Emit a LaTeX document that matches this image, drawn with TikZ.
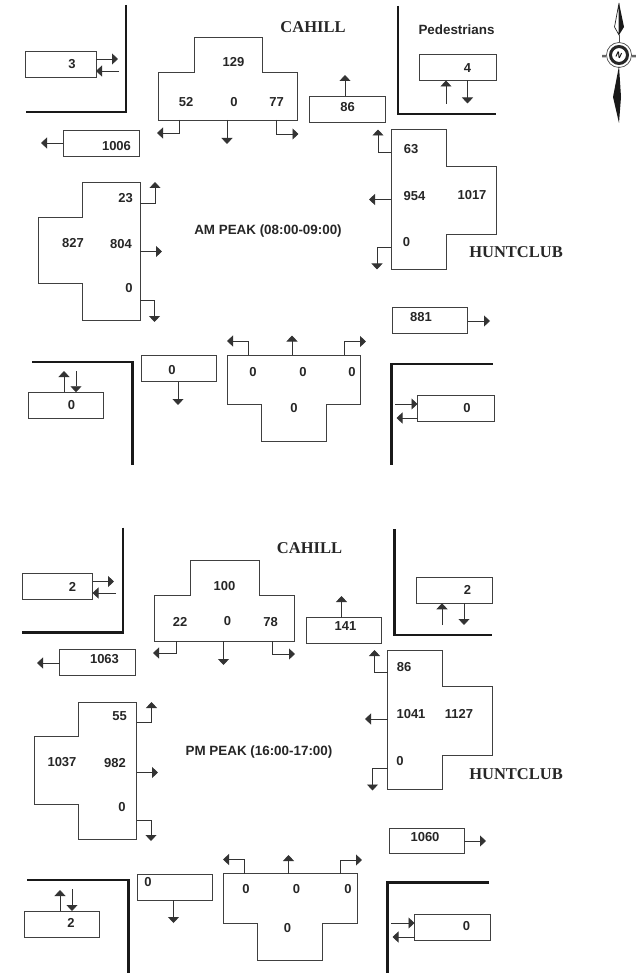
\documentclass[tikz,border=0pt]{standalone}
\usepackage{fontspec}
\setmainfont{Liberation Sans}
\newfontfamily\roadfont{Liberation Serif}
\usetikzlibrary{arrows.meta, positioning}

\begin{document}
\begin{tikzpicture}[
    x=1pt, y=-1pt,
    box/.style={rectangle, draw=black!75, line width=0.9pt, inner sep=0pt, outer sep=0pt,
                minimum width=75.5pt, minimum height=26pt},
    body/.style={rectangle, inner sep=0pt, outer sep=0pt},
    tee/.style={draw=black!75, line width=0.9pt},
    num/.style={font=\fontsize{13}{15}\selectfont\bfseries, text=black!85, inner sep=0pt},
    title/.style={font=\fontsize{13.4}{15}\selectfont\bfseries, text=black!85, inner sep=0pt},
    road/.style={font=\fontsize{16.5}{18}\selectfont\roadfont\bfseries, text=black!85, inner sep=0pt},
    curb/.style={draw=black!90, line width=2.5pt, miter limit=10},
    arr/.style={draw=black!80, line width=0.9pt, -{Triangle[length=6pt,width=11pt]}},
]
    \useasboundingbox (0,0) rectangle (639,973);

    % compass
    \node[circle, draw=black!85, line width=3pt, minimum size=17pt, inner sep=0pt] (rose) at (619,55)
        {\rotatebox{-25}{\fontsize{8}{8}\selectfont\bfseries N}};
    \node[circle, draw=black!70, line width=0.7pt, minimum size=25pt, inner sep=0pt] (rim) at (619,55) {};
    \fill[black!60] (rim.east) rectangle ++(4,2.5) (rim.west) rectangle ++(-4,2.5);
    \draw[black!85, line width=0.7pt, fill=white] (619,3) -- (614.5,27) -- (619,35) -- cycle;
    \fill[black!90] (619,3) -- (624,27) -- (619,35) -- cycle;
    \draw[black!70, line width=0.7pt] (619,35) -- (rim.north);
    \fill[black!90] (619,66) -- (613,97) -- (619,123) -- (621,97) -- cycle;

    % am peak
    \node[road] (cahilla) at (313,27) {CAHILL};
    \node[road] (huntcluba) at (516,252) {HUNTCLUB};
    \node[title] (peaka) at (268,231) {AM PEAK (08:00-09:00)};
    \node[title] (pedestrians) at (456.5,30) {Pedestrians};

    \draw[curb] (126,5) -- (126,112) -- (26,112);
    \draw[curb] (398,6) -- (398,114) -- (495.5,114);
    \draw[curb] (32,362) -- (132.5,362) -- (132.5,465);
    \draw[curb] (492.5,364) -- (391.5,364) -- (391.5,465);

    \draw[tee] (194,37.5) -- (262,37.5) -- (262,72) -- (297.5,72) -- (297.5,120) -- (158,120) -- (158,72) -- (194,72) -- cycle;
    \draw[tee] (391,129.5) -- (446,129.5) -- (446,166) -- (496,166) -- (496,234.5) -- (446,234.5) -- (446,269) -- (391,269) -- cycle;
    \draw[tee] (82.5,182.5) -- (140,182.5) -- (140,320.5) -- (82.5,320.5) -- (82.5,283.5) -- (38.5,283.5) -- (38.5,217) -- (82.5,217) -- cycle;
    \draw[tee] (227.5,355) -- (360.5,355) -- (360.5,404.5) -- (326,404.5) -- (326,441) -- (261,441) -- (261,404.5) -- (227.5,404.5) -- cycle;
    \node[body, minimum width=139.5pt, minimum height=48pt] (northa) at (227.75,96) {};
    \node[body, minimum width=55pt, minimum height=139.5pt] (easta) at (418.5,199.25) {};
    \node[body, minimum width=57.5pt, minimum height=138pt] (westa) at (111.25,251.5) {};
    \node[body, minimum width=133pt, minimum height=49.5pt] (southa) at (294,379.75) {};

    \node[box, minimum width=71pt] (nwa) at (60.5,64) {};
    \node[box, minimum width=76pt] (outwa) at (101,143) {};
    \node[box] (outna) at (347.5,109.25) {};
    \node[box, minimum width=76.5pt] (nea) at (457.75,67.5) {};
    \node[box, minimum width=75pt] (oute) at (430,320.75) {};
    \node[box, minimum width=76.5pt] (sea) at (455.75,408) {};
    \node[box, minimum width=74.5pt] (outsa) at (178.75,368.75) {};
    \node[box, minimum width=75pt] (swa) at (66,405.25) {};

    \node[num] at (72,64.5) (n3) {3};
    \node[num] at (116.5,146) (n1006) {1006};
    \node[num] at (347.5,107) (n86) {86};
    \node[num] at (467.5,68) (n4) {4};
    \node[num] at (421,317) (n881) {881};
    \node[num] at (467,408) (nsea) {0};
    \node[num] at (172,370) (nouts) {0};
    \node[num] at (71.5,405) (nswa) {0};
    \node[num] at (233.5,62.5) (n129) {129};
    \node[num] at (186,102) (n52) {52};
    \node[num] at (234,102) (nnorth) {0};
    \node[num] at (276.5,102) (n77) {77};
    \node[num] at (411,149) (n63) {63};
    \node[num] at (414.5,196) (n954) {954};
    \node[num] at (472,195.5) (n1017) {1017};
    \node[num] at (406.5,242.5) (neast) {0};
    \node[num] at (125.5,198) (n23) {23};
    \node[num] at (73,243) (n827) {827};
    \node[num] at (121,244) (n804) {804};
    \node[num] at (129,288) (nwest) {0};
    \node[num] at (253,372.5) (ns1) {0};
    \node[num] at (303,372.5) (ns2) {0};
    \node[num] at (352,372.5) (ns3) {0};
    \node[num] at (294,408) (ns4) {0};

    \coordinate (a1) at (118,59);
    \coordinate (a2) at (119,71);
    \coordinate (a3) at (41,143);
    \coordinate (a4) at (157,133);
    \coordinate (a5) at (227,144);
    \coordinate (a6) at (298.5,134);
    \coordinate (a7) at (345,75);
    \coordinate (a8) at (446,104);
    \coordinate (a9) at (467.5,103.5);
    \coordinate (a10) at (378,129.5);
    \coordinate (a11) at (369,199.5);
    \coordinate (a12) at (377,269.5);
    \coordinate (a13) at (155,182);
    \coordinate (a14) at (162,251.5);
    \coordinate (a15) at (154.5,322);
    \coordinate (a16) at (490,321);
    \coordinate (a17) at (395,404);
    \coordinate (a18) at (396.5,418);
    \coordinate (a19) at (227,341);
    \coordinate (a20) at (292,335.5);
    \coordinate (a21) at (366,341.5);
    \coordinate (a22) at (178,405);
    \coordinate (a23) at (64,371);
    \coordinate (a24) at (76,371);

    \draw[arr] (nwa.east |- a1) -- (a1);
    \draw[arr] (a2) -- (nwa.east |- a2);
    \draw[arr] (outwa.west |- a3) -- (a3);
    \draw[arr] ([xshift=21pt]northa.south west) |- (a4);
    \draw[arr] (northa.south -| a5) -- (a5);
    \draw[arr] ([xshift=-21pt]northa.south east) |- (a6);
    \draw[arr] (outna.north -| a7) -- (a7);
    \draw[arr] (a8) -- (nea.south -| a8);
    \draw[arr] (nea.south -| a9) -- (a9);
    \draw[arr] ([yshift=-22.5pt]easta.north west) -| (a10);
    \draw[arr] (easta.west |- a11) -- (a11);
    \draw[arr] ([yshift=22pt]easta.south west) -| (a12);
    \draw[arr] ([yshift=-20.5pt]westa.north east) -| (a13);
    \draw[arr] (westa.east |- a14) -- (a14);
    \draw[arr] ([yshift=20.5pt]westa.south east) -| (a15);
    \draw[arr] (oute.east |- a16) -- (a16);
    \draw[arr] (a17) -- (sea.west |- a17);
    \draw[arr] (sea.west |- a18) -- (a18);
    \draw[arr] ([xshift=20.5pt]southa.north west) |- (a19);
    \draw[arr] (southa.north -| a20) -- (a20);
    \draw[arr] ([xshift=-16.5pt]southa.north east) |- (a21);
    \draw[arr] (outsa.south -| a22) -- (a22);
    \draw[arr] (swa.north -| a23) -- (a23);
    \draw[arr] (a24) -- (swa.north -| a24);

    % pm peak
    \node[road] (cahillb) at (309.5,548) {CAHILL};
    \node[road] (huntclubb) at (516,774.5) {HUNTCLUB};
    \node[title] (peakb) at (259,752) {PM PEAK (16:00-17:00)};

    \draw[curb] (123,527.5) -- (123,632.5) -- (22,632.5);
    \draw[curb] (394.5,529) -- (394.5,635) -- (492,635);
    \draw[curb] (27,880) -- (128.5,880) -- (128.5,973);
    \draw[curb] (489,882.5) -- (387.5,882.5) -- (387.5,973);

    \draw[tee] (190.5,560.5) -- (259,560.5) -- (259,595.5) -- (294,595.5) -- (294,641) -- (154,641) -- (154,595) -- (190.5,595) -- cycle;
    \draw[tee] (387.5,650) -- (442,650) -- (442,686) -- (492,686) -- (492,755) -- (442,755) -- (442,789.5) -- (387.5,789.5) -- cycle;
    \draw[tee] (78.5,702) -- (136.5,702) -- (136.5,839.5) -- (78.5,839.5) -- (78.5,804) -- (34.5,804) -- (34.5,736.5) -- (78.5,736.5) -- cycle;
    \draw[tee] (223.5,873.5) -- (357,873.5) -- (357,923.5) -- (322.5,923.5) -- (322.5,960) -- (257,960) -- (257,923) -- (223.5,923) -- cycle;
    \node[body, minimum width=140pt, minimum height=46pt] (northb) at (224,618) {};
    \node[body, minimum width=54.5pt, minimum height=139.5pt] (eastb) at (414.75,719.75) {};
    \node[body, minimum width=58pt, minimum height=137.5pt] (westb) at (107.5,770.75) {};
    \node[body, minimum width=133.5pt, minimum height=50pt] (southb) at (290.25,898.5) {};

    \node[box, minimum width=70.5pt] (nwb) at (57.25,586.25) {};
    \node[box, minimum width=76pt] (outwb) at (97.5,662.5) {};
    \node[box, minimum width=74.5pt] (outnb) at (343.75,630.5) {};
    \node[box, minimum width=76pt] (neb) at (454,590.25) {};
    \node[box, minimum width=75pt, minimum height=25pt] (outeb) at (426.5,841) {};
    \node[box] (seb) at (452.25,927) {};
    \node[box, minimum width=74.5pt] (outsb) at (174.75,887) {};
    \node[box, minimum width=75pt] (swb) at (62,924) {};

    \node[num] at (72.5,587) (m2a) {2};
    \node[num] at (104.5,659) (m1063) {1063};
    \node[num] at (345.5,626.5) (m141) {141};
    \node[num] at (467.5,590) (m2b) {2};
    \node[num] at (425,837) (m1060) {1060};
    \node[num] at (466.5,926) (mse) {0};
    \node[num] at (148,882) (mouts) {0};
    \node[num] at (71,923) (m2c) {2};
    \node[num] at (224.5,586) (m100) {100};
    \node[num] at (180,621.5) (m22) {22};
    \node[num] at (227.5,621.5) (mnorth) {0};
    \node[num] at (270.5,622) (m78) {78};
    \node[num] at (404,667.5) (m86) {86};
    \node[num] at (411,714) (m1041) {1041};
    \node[num] at (459,714) (m1127) {1127};
    \node[num] at (400,761) (meast) {0};
    \node[num] at (119.5,716) (m55) {55};
    \node[num] at (62,762) (m1037) {1037};
    \node[num] at (115,763) (m982) {982};
    \node[num] at (122,807) (mwest) {0};
    \node[num] at (246,889) (ms1) {0};
    \node[num] at (296.5,889) (ms2) {0};
    \node[num] at (348,889) (ms3) {0};
    \node[num] at (287.5,928) (ms4) {0};

    \coordinate (b1) at (114,581.5);
    \coordinate (b2) at (116,593);
    \coordinate (b3) at (37,663);
    \coordinate (b4) at (153,653);
    \coordinate (b5) at (223.5,665);
    \coordinate (b6) at (295,654);
    \coordinate (b7) at (341.5,596);
    \coordinate (b8) at (442,625);
    \coordinate (b9) at (464,625);
    \coordinate (b10) at (374.5,650);
    \coordinate (b11) at (365,719);
    \coordinate (b12) at (372.5,790.5);
    \coordinate (b13) at (151.5,702);
    \coordinate (b14) at (158,772.5);
    \coordinate (b15) at (151,841);
    \coordinate (b16) at (486,841);
    \coordinate (b17) at (391,923);
    \coordinate (b18) at (392.5,937);
    \coordinate (b19) at (223,859.5);
    \coordinate (b20) at (288.5,855);
    \coordinate (b21) at (362,860);
    \coordinate (b22) at (173.5,923);
    \coordinate (b23) at (60,890);
    \coordinate (b24) at (72,889);

    \draw[arr] (nwb.east |- b1) -- (b1);
    \draw[arr] (b2) -- (nwb.east |- b2);
    \draw[arr] (outwb.west |- b3) -- (b3);
    \draw[arr] ([xshift=22pt]northb.south west) |- (b4);
    \draw[arr] (northb.south -| b5) -- (b5);
    \draw[arr] ([xshift=-22pt]northb.south east) |- (b6);
    \draw[arr] (outnb.north -| b7) -- (b7);
    \draw[arr] (b8) -- (neb.south -| b8);
    \draw[arr] (neb.south -| b9) -- (b9);
    \draw[arr] ([yshift=-22pt]eastb.north west) -| (b10);
    \draw[arr] (eastb.west |- b11) -- (b11);
    \draw[arr] ([yshift=21.5pt]eastb.south west) -| (b12);
    \draw[arr] ([yshift=-20pt]westb.north east) -| (b13);
    \draw[arr] (westb.east |- b14) -- (b14);
    \draw[arr] ([yshift=19pt]westb.south east) -| (b15);
    \draw[arr] (outeb.east |- b16) -- (b16);
    \draw[arr] (b17) -- (seb.west |- b17);
    \draw[arr] (seb.west |- b18) -- (b18);
    \draw[arr] ([xshift=20.5pt]southb.north west) |- (b19);
    \draw[arr] (southb.north -| b20) -- (b20);
    \draw[arr] ([xshift=-16.5pt]southb.north east) |- (b21);
    \draw[arr] (outsb.south -| b22) -- (b22);
    \draw[arr] (swb.north -| b23) -- (b23);
    \draw[arr] (b24) -- (swb.north -| b24);
\end{tikzpicture}
\end{document}
